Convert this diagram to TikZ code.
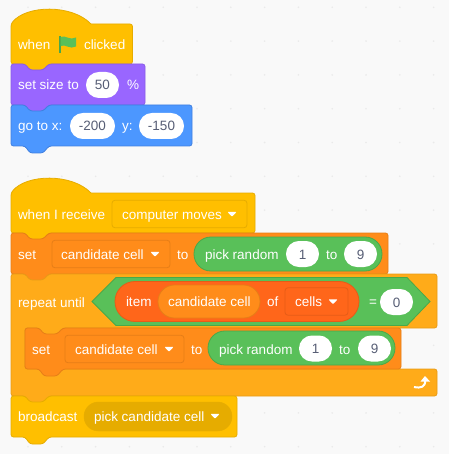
\documentclass[tikz,border=0pt]{standalone}
\usepackage{fontspec}
\setmainfont{Liberation Sans}
\usepackage{xcolor}
\definecolor{canvas}{HTML}{F9F9F9}
\definecolor{griddot}{HTML}{EAEAEA}
\definecolor{eventfill}{HTML}{FFBF00}
\definecolor{eventline}{HTML}{E6AC00}
\definecolor{eventdark}{HTML}{E6AC00}
\definecolor{looksfill}{HTML}{9966FF}
\definecolor{looksline}{HTML}{8A5CE6}
\definecolor{motionfill}{HTML}{4C97FF}
\definecolor{motionline}{HTML}{4080E0}
\definecolor{varfill}{HTML}{FF8C1A}
\definecolor{varline}{HTML}{E67E17}
\definecolor{ctrlfill}{HTML}{FFAB19}
\definecolor{ctrlline}{HTML}{E89C17}
\definecolor{opfill}{HTML}{59C059}
\definecolor{opline}{HTML}{4AA84A}
\definecolor{listfill}{HTML}{FF661A}
\definecolor{listline}{HTML}{E65C17}
\definecolor{numtext}{HTML}{575E75}
\newcommand{\blockbody}[5]{
	\draw[#1, rounded corners=2.5pt] ({#2+7},#4) -- ({#2+14},#4) -- ({#2+19},{#4+6}) -- ({#2+32},{#4+6}) -- ({#2+38},#4) -- (#3,#4) -- (#3,#5) -- ({#2+38},#5) -- ({#2+32},{#5+7}) -- ({#2+19},{#5+7}) -- ({#2+14},#5) -- (#2,#5) -- (#2,#4) -- cycle;
}
\newcommand{\hatbody}[4]{
	\draw[#1, rounded corners=2.5pt] (18,#4) -- (11,#4) -- (11,#3) [sharp corners] .. controls (26,{#3-19}) and (72,{#3-20}) .. (91,#3) [rounded corners=2.5pt] -- (#2,#3) -- (#2,#4) -- (49,#4) -- (43,{#4+7}) -- (30,{#4+7}) -- (25,#4) -- cycle;
}
\newcommand{\droparrow}[2]{
	\fill[white, rounded corners=0.8pt] ({#1-4.6},{#2-2.2}) -- ({#1+4.6},{#2-2.2}) -- (#1,{#2+2.8}) -- cycle;
}

\begin{document}
\begin{tikzpicture}[x=1pt, y=-1pt,
	every node/.style={font=\fontsize{13.5}{15}\selectfont, inner sep=0pt, outer sep=0pt},
	word/.style={text=white, anchor=west, text height=12pt, text depth=2pt},
	numpill/.style={fill=white, text=numtext, rounded corners=12.9pt, minimum height=26pt, text height=12pt, text depth=2pt},
	dropbox/.style={rounded corners=3pt, minimum height=27.5pt, line width=0.8pt},
	hatblock/.style={fill=eventfill, draw=eventline, line width=0.8pt},
	looksblock/.style={fill=looksfill, draw=looksline, line width=0.8pt},
	motionblock/.style={fill=motionfill, draw=motionline, line width=0.8pt},
	varblock/.style={fill=varfill, draw=varline, line width=0.8pt},
	ctrlblock/.style={fill=ctrlfill, draw=ctrlline, line width=0.8pt}]
	\fill[canvas] (0,0) rectangle (449,454);
	\useasboundingbox (0,0) rectangle (449,454);
	\foreach \i in {0,...,12} {
		\foreach \j in {0,...,13} {
			\fill[griddot] ({28+33.8*\i},{7.3+33.8*\j}) circle (0.9pt);
		}
	}

	\hatbody{hatblock}{132.5}{24}{64}
	\blockbody{looksblock}{11}{145}{64}{105}
	\blockbody{motionblock}{11}{192}{105}{146}
	\node[word] (when) at (18,45) {when};
	\draw[opline, line width=1.3pt] (60,36) -- (60,53);
	\fill[opfill] (60.5,37) .. controls (65,34.5) and (70,41) .. (76,37.5) -- (76,46.5) .. controls (70,50) and (65,43.5) .. (60.5,46) -- cycle;
	\node[word] (clicked) at (84,45) {clicked};
	\node[word] (setsize) at (18,85) {set size to};
	\node[numpill, minimum width=33pt] (sizeval) at (102.5,85) {50};
	\node[word] (percent) at (127,85) {\%};
	\node[word] (gotox) at (18,126) {go to x:};
	\node[numpill, minimum width=45pt] (xval) at (92.5,126) {-200};
	\node[word] (gotoy) at (122,126) {y:};
	\node[numpill, minimum width=45pt] (yval) at (161.5,126) {-150};

	\hatbody{hatblock}{255}{193}{233}
	\node[word] (receive) at (18,214) {when I receive};
	\node[dropbox, draw=eventdark, fill=eventfill, minimum width=135pt] (movesbox) at (179.5,214) {};
	\node[word] (moves) at (122,214) {computer moves};
	\droparrow{232}{214}

	\blockbody{varblock}{11}{388}{233}{274}
	\node[word] (setone) at (18,254) {set};
	\node[dropbox, draw=varline, fill=varfill, minimum width=118pt] (cellbox) at (111,254) {};
	\node[word] (cellone) at (61,254) {candidate cell};
	\droparrow{155}{254}
	\node[word] (toone) at (177,254) {to};
	\node[fill=opfill, draw=opline, line width=0.8pt, rounded corners=16.9pt, minimum width=188pt, minimum height=34pt] (randone) at (288,254) {};
	\node[word] (pickone) at (205,254) {pick random};
	\node[numpill, minimum width=33pt] (lowone) at (302.5,254) {1};
	\node[word] (midone) at (326,254) {to};
	\node[numpill, minimum width=33pt] (highone) at (360.5,254) {9};

	\draw[ctrlblock, rounded corners=2.5pt] (18,274) -- (25,274) -- (30,280) -- (43,280) -- (49,274) -- (437,274) -- (437,328) -- (63,328) -- (57,335) -- (44,335) -- (39,328) -- (25,328) -- (25,369) -- (437,369) -- (437,396) -- (49,396) -- (43,403) -- (30,403) -- (25,396) -- (11,396) -- (11,274) -- cycle;
	\node[word] (repeat) at (18,302) {repeat until};
	\draw[fill=opfill, draw=opline, line width=0.8pt] (92,301.5) -- (116,277.5) -- (407,277.5) -- (430,301.5) -- (407,325.5) -- (116,325.5) -- cycle;
	\node[fill=listfill, draw=listline, line width=0.8pt, rounded corners=19.9pt, minimum width=244pt, minimum height=40pt] (itemof) at (237,301.5) {};
	\node[word] (item) at (126,301.5) {item};
	\node[fill=varfill, draw=varline, line width=0.8pt, rounded corners=16.4pt, minimum width=102pt, minimum height=33pt] (cellpill) at (209,301.5) {};
	\node[word] (cellmid) at (168,301.5) {candidate cell};
	\node[word] (of) at (267,301.5) {of};
	\node[dropbox, draw=listline, fill=listfill, minimum width=63pt] (cellsbox) at (316.5,301.5) {};
	\node[word] (cells) at (295,301.5) {cells};
	\droparrow{333}{301.5}
	\node[word] (equals) at (369,301.5) {=};
	\node[numpill, minimum width=33pt] (zero) at (396.5,302) {0};

	\blockbody{varblock}{25}{401}{328}{369}
	\node[word] (settwo) at (32,349) {set};
	\node[dropbox, draw=varline, fill=varfill, minimum width=119pt] (cellboxtwo) at (124.5,349) {};
	\node[word] (celltwo) at (75,349) {candidate cell};
	\droparrow{169}{349}
	\node[word] (totwo) at (191,349) {to};
	\node[fill=opfill, draw=opline, line width=0.8pt, rounded corners=16.9pt, minimum width=187pt, minimum height=34pt] (randtwo) at (301.5,348) {};
	\node[word] (picktwo) at (219,349) {pick random};
	\node[numpill, minimum width=33pt] (lowtwo) at (315.5,348.5) {1};
	\node[word] (midtwo) at (339,349) {to};
	\node[numpill, minimum width=33pt] (hightwo) at (374.5,348.5) {9};
	\draw[white, line width=2pt] (414,387) .. controls (421,388.5) and (425.5,387) .. (425.2,380);
	\fill[white] (420.5,381.5) -- (425,376) -- (430,381.5) -- cycle;

	\blockbody{hatblock}{11}{237}{396}{437}
	\node[word] (broadcast) at (18,416) {broadcast};
	\node[fill=eventdark, draw=eventline, rounded corners=14.4pt, minimum width=148pt, minimum height=29pt] (castbox) at (158,416.5) {};
	\node[word] (castname) at (94,416) {pick candidate cell};
	\droparrow{215}{416}
\end{tikzpicture}
\end{document}
